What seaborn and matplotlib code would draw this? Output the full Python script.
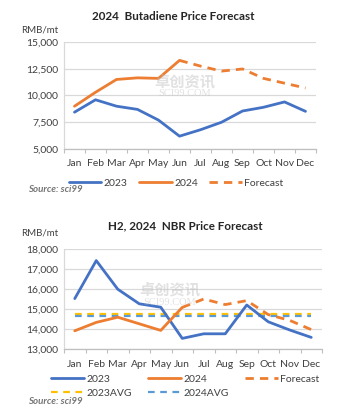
import matplotlib
matplotlib.use("Agg")
import matplotlib.pyplot as plt
import seaborn as sns
import pandas as pd
import numpy as np
from matplotlib.lines import Line2D
from matplotlib.ticker import FuncFormatter, FixedLocator

months = ["Jan", "Feb", "Mar", "Apr", "May", "Jun", "Jul", "Aug", "Sep", "Oct", "Nov", "Dec"]

# Butadiene
bd_2023 = [8440, 9600, 9000, 8700, 7700, 6200, 6800, 7500, 8550, 8900, 9400, 8520]
bd_2024 = [9000, 10300, 11500, 11650, 11600, 13280]
bd_fc_months = ["Jun", "Jul", "Aug", "Sep", "Oct", "Nov", "Dec"]
bd_fc = [13280, 12750, 12280, 12480, 11600, 11150, 10700]

# NBR
nbr_2023 = [15520, 17420, 15990, 15260, 15090, 13530, 13760, 13760, 15200, 14360, 13950, 13580]
nbr_2024 = [13910, 14330, 14590, 14260, 13930, 15080]
nbr_fc_months = ["Jun", "Jul", "Aug", "Sep", "Oct", "Nov", "Dec"]
nbr_fc = [15080, 15500, 15220, 15420, 14720, 14430, 13970]
nbr_avg_2023 = 14760
nbr_avg_2024 = 14630

C23 = "#4472C4"
C24 = "#ED7D31"
CY = "#FFC000"
CB = "#5B9BD5"
GRID = "#d9d9d9"
TXT = "#404040"

sns.set_theme(style="white")
plt.rcParams["font.family"] = ["Lato", "DejaVu Sans"]

W, H = 343, 415
fig = plt.figure(figsize=(W / 100, H / 100), dpi=100)
fig.patch.set_facecolor("white")

FS = 7.5

def px_ax(l, t, r, b):
    return fig.add_axes([l / W, 1 - b / H, (r - l) / W, (b - t) / H])

def style_ax(ax, ylim, yticks, xpad):
    ax.set_xlim(-0.5, 11.5)
    ax.set_ylim(*ylim)
    ax.set_yticks(yticks)
    ax.yaxis.set_major_formatter(FuncFormatter(lambda v, p: f"{int(v):,}"))
    ax.set_xticks(range(12))
    ax.set_xticklabels(months)
    ax.xaxis.set_minor_locator(FixedLocator(np.arange(-0.5, 12, 1)))
    ax.tick_params(axis="x", which="major", length=0, labelsize=FS, colors=TXT, pad=xpad)
    ax.tick_params(axis="x", which="minor", length=3, color="#bfbfbf", width=0.8, bottom=True)
    ax.tick_params(axis="y", length=0, labelsize=FS, colors=TXT, pad=4)
    ax.grid(axis="y", color=GRID, lw=0.9)
    ax.set_axisbelow(True)
    for s in ["top", "right"]:
        ax.spines[s].set_visible(False)
    ax.spines["left"].set_color(GRID)
    ax.spines["bottom"].set_color("#bfbfbf")
    ax.spines["left"].set_linewidth(0.9)
    ax.spines["bottom"].set_linewidth(0.9)
    ax.set_xlabel("")
    ax.set_ylabel("")

LW = 2.0
DASH = (0, (3, 2.2))
ADASH = (0, (3, 2.5))

# ---------- Top chart ----------
ax1 = px_ax(64, 42, 316, 149)
df23 = pd.DataFrame({"m": months, "v": bd_2023})
df24 = pd.DataFrame({"m": months[:len(bd_2024)], "v": bd_2024})
dffc = pd.DataFrame({"m": bd_fc_months, "v": bd_fc})
for d in (df23, df24, dffc):
    d["x"] = d["m"].map({m: i for i, m in enumerate(months)})
sns.lineplot(data=df23, x="x", y="v", ax=ax1, color=C23, lw=LW)
sns.lineplot(data=df24, x="x", y="v", ax=ax1, color=C24, lw=LW)
sns.lineplot(data=dffc, x="x", y="v", ax=ax1, color=C24, lw=LW, linestyle=DASH)
style_ax(ax1, (5000, 15000), [5000, 7500, 10000, 12500, 15000], 7)

fig.text(173 / W, 1 - 17 / H, "2024  Butadiene Price Forecast", ha="center", va="center",
         fontsize=8.4, fontweight="bold", color="#262626")
fig.text(21 / W, 1 - 30 / H, "RMB/mt", ha="left", va="center", fontsize=7, color=TXT)
fig.text(28 / W, 1 - 189 / H, "Source: sci99", ha="left", va="center", fontsize=7,
         fontweight="bold", fontstyle="italic", color="#767676")

h1 = [Line2D([], [], color=C23, lw=LW), Line2D([], [], color=C24, lw=LW),
      Line2D([], [], color=C24, lw=LW, linestyle=DASH)]
fig.legend(h1, ["2023", "2024", "Forecast"], loc="center left", bbox_to_anchor=(69 / W, 1 - 183 / H),
           ncol=3, frameon=False, fontsize=FS, handlelength=3.1, columnspacing=1.1,
           handletextpad=0.25, labelcolor=TXT, borderpad=0, borderaxespad=0)

# watermark
fig.text(185 / W, 1 - 81 / H, "卓创资讯", ha="center", va="center", fontsize=11,
         family=["Noto Sans CJK SC", "DejaVu Sans"], color="#bdbdbd", alpha=0.45, fontweight="bold")
fig.text(185 / W, 1 - 94 / H, "SCI99.COM", ha="center", va="center", fontsize=7.5,
         family=["Liberation Serif"], color="#bdbdbd", alpha=0.45)

# ---------- Bottom chart ----------
ax2 = px_ax(64, 249, 322, 349)
e23 = pd.DataFrame({"m": months, "v": nbr_2023})
e24 = pd.DataFrame({"m": months[:len(nbr_2024)], "v": nbr_2024})
efc = pd.DataFrame({"m": nbr_fc_months, "v": nbr_fc})
ea23 = pd.DataFrame({"m": months, "v": [nbr_avg_2023] * 12})
ea24 = pd.DataFrame({"m": months, "v": [nbr_avg_2024] * 12})
for d in (e23, e24, efc, ea23, ea24):
    d["x"] = d["m"].map({m: i for i, m in enumerate(months)})
sns.lineplot(data=ea23, x="x", y="v", ax=ax2, color=CY, lw=1.6, linestyle=ADASH)
sns.lineplot(data=ea24, x="x", y="v", ax=ax2, color=CB, lw=1.6, linestyle=ADASH)
sns.lineplot(data=e23, x="x", y="v", ax=ax2, color=C23, lw=LW)
sns.lineplot(data=e24, x="x", y="v", ax=ax2, color=C24, lw=LW)
sns.lineplot(data=efc, x="x", y="v", ax=ax2, color=C24, lw=LW, linestyle=DASH)
style_ax(ax2, (13000, 18000), [13000, 14000, 15000, 16000, 17000, 18000], 8)

fig.text(185 / W, 1 - 226 / H, "H2, 2024  NBR Price Forecast", ha="center", va="center",
         fontsize=8.4, fontweight="bold", color="#262626")
fig.text(21 / W, 1 - 233 / H, "RMB/mt", ha="left", va="center", fontsize=7, color=TXT)
fig.text(28 / W, 1 - 401 / H, "Source: sci99", ha="left", va="center", fontsize=7,
         fontweight="bold", fontstyle="italic", color="#767676")

h2 = [Line2D([], [], color=C23, lw=LW), Line2D([], [], color=CY, lw=1.6, linestyle=ADASH),
      Line2D([], [], color=C24, lw=LW), Line2D([], [], color=CB, lw=1.6, linestyle=ADASH),
      Line2D([], [], color=C24, lw=LW, linestyle=DASH)]
fig.legend(h2, ["2023", "2023AVG", "2024", "2024AVG", "Forecast"], loc="center left",
           bbox_to_anchor=(51 / W, 1 - 386 / H), ncol=3, frameon=False, fontsize=FS,
           handlelength=3.2, columnspacing=1.55, handletextpad=0.2, labelcolor=TXT,
           labelspacing=0.45, borderpad=0, borderaxespad=0)

fig.text(170 / W, 1 - 289 / H, "卓创资讯", ha="center", va="center", fontsize=11,
         family=["Noto Sans CJK SC", "DejaVu Sans"], color="#bdbdbd", alpha=0.45, fontweight="bold")
fig.text(170 / W, 1 - 302 / H, "SCI99.COM", ha="center", va="center", fontsize=7.5,
         family=["Liberation Serif"], color="#bdbdbd", alpha=0.45)

fig.savefig("out.png", dpi=100, facecolor="white")
